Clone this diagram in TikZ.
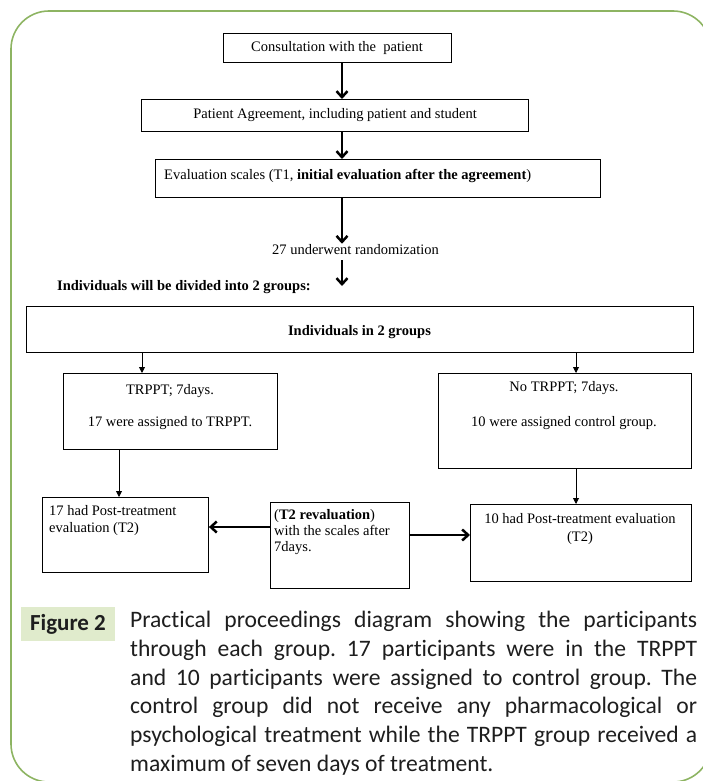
\documentclass[tikz,border=0pt]{standalone}
\usepackage{fontspec}
\setmainfont{Liberation Serif}
\newfontfamily\capfont[Ligatures=NoCommon]{Carlito}
\usetikzlibrary{arrows.meta}
\definecolor{framegreen}{RGB}{141,180,98}
\definecolor{figbg}{RGB}{224,235,204}
\definecolor{captext}{RGB}{30,30,30}
\tikzset{
  box/.style={draw=black, line width=0.9pt, rectangle, inner sep=0pt, anchor=north west},
  lbl/.style={inner sep=0pt, font=\fontsize{14.5}{17}\selectfont},
  thickarrow/.style={line width=2.5pt, -{Straight Barb[length=6pt,width=11pt]}},
  thinarrow/.style={line width=0.9pt, -{Triangle[length=6pt,width=6pt]}},
}
\begin{document}
\frenchspacing
\begin{tikzpicture}[x=1pt, y=-1pt]
\clip (0,0) rectangle (703,781);
% frame
\draw[framegreen, line width=1.6pt, rounded corners=38pt] (11,11) rectangle (711,782);

% boxes
\node[box, minimum width=228pt, minimum height=29pt] (b1) at (223,33) {};
\node[box, minimum width=387pt, minimum height=32pt] (b2) at (141,99) {};
\node[box, minimum width=445pt, minimum height=38pt] (b3) at (155,159) {};
\node[box, minimum width=667pt, minimum height=46pt] (b4) at (26,306) {};
\node[box, minimum width=214pt, minimum height=76pt] (b5) at (63,373) {};
\node[box, minimum width=253pt, minimum height=95pt] (b6) at (438,373) {};
\node[box, minimum width=166pt, minimum height=75pt] (b7) at (42,497) {};
\node[box, minimum width=139pt, minimum height=86pt] (b8) at (270,502) {};
\node[box, minimum width=221pt, minimum height=77pt] (b9) at (470,504) {};

% texts
\node[lbl, anchor=base] (t1) at (337,52) {Consultation with the\ \ patient};
\node[lbl, anchor=base] (t2) at (335,118) {Patient Agreement, including patient and student};
\node[lbl, anchor=base west] (t3) at (164,179) {Evaluation scales (T1, \textbf{initial evaluation after the agreement})};
\node[lbl, anchor=base] (rand) at (355.5,254) {27 underwent randomization};
\node[lbl, anchor=base west] (div) at (57,290) {\textbf{Individuals will be divided into 2 groups:}};
\node[lbl, anchor=base] (t4) at (359.5,335) {\textbf{Individuals in 2 groups}};
\node[lbl, anchor=base] (t5a) at (170,394) {TRPPT; 7days.};
\node[lbl, anchor=base] (t5b) at (170,426) {17 were assigned to TRPPT.};
\node[lbl, anchor=base] (t6a) at (564,391) {No TRPPT; 7days.};
\node[lbl, anchor=base] (t6b) at (564,426) {10 were assigned control group.};
\node[lbl, anchor=base west] (t7a) at (49,515) {17 had Post-treatment};
\node[lbl, anchor=base west] (t7b) at (49,532) {evaluation (T2)};
\node[lbl, anchor=base west] (t8a) at (274,519) {(\textbf{T2 revaluation})};
\node[lbl, anchor=base west] (t8b) at (274,535) {with the scales after};
\node[lbl, anchor=base west] (t8c) at (274,551) {7days.};
\node[lbl, anchor=base] (t9a) at (580,523) {10 had Post-treatment evaluation};
\node[lbl, anchor=base] (t9b) at (580,541) {(T2)};

% helper coordinates
\coordinate (sx) at (342,0);
\coordinate (la) at (142,0);
\coordinate (ra) at (576,0);
\coordinate (lb) at (119,0);
\coordinate (ya) at (0,527);
\coordinate (yb) at (0,535);
\coordinate (divtip) at (342,286);

% connectors
\draw[thickarrow] (b1.south -| sx) -- (b2.north -| sx);
\draw[thickarrow] (b2.south -| sx) -- (b3.north -| sx);
\draw[thickarrow] (b3.south -| sx) -- (rand.north -| sx);
\draw[thickarrow, shorten <=6pt] (rand.south -| sx) -- (divtip);
\draw[thinarrow] (b4.south -| la) -- (b5.north -| la);
\draw[thinarrow] (b4.south -| ra) -- (b6.north -| ra);
\draw[thinarrow] (b5.south -| lb) -- (b7.north -| lb);
\draw[thinarrow] (b6.south -| ra) -- (b9.north -| ra);
\draw[thickarrow] (b8.west |- ya) -- (b7.east |- ya);
\draw[thickarrow] (b8.east |- yb) -- (b9.west |- yb);

% caption
\node[fill=figbg, minimum width=94pt, minimum height=34pt, inner sep=0pt,
      font=\capfont\bfseries\fontsize{23}{28}\selectfont, text=captext] (fig) at (68,624) {Figure 2};
\node[anchor=north west, inner sep=0pt, align=left, text=captext,
      font=\capfont\fontsize{23.6}{28.8}\selectfont] (cap) at (130,611)
 {\makebox[567pt][s]{Practical proceedings diagram showing the participants}\\
  \makebox[567pt][s]{through each group. 17 participants were in the TRPPT}\\
  \makebox[567pt][s]{and 10 participants were assigned to control group. The}\\
  \makebox[567pt][s]{control group did not receive any pharmacological or}\\
  \makebox[567pt][s]{psychological treatment while the TRPPT group received a}\\
  maximum of seven days of treatment.};
\end{tikzpicture}
\end{document}
